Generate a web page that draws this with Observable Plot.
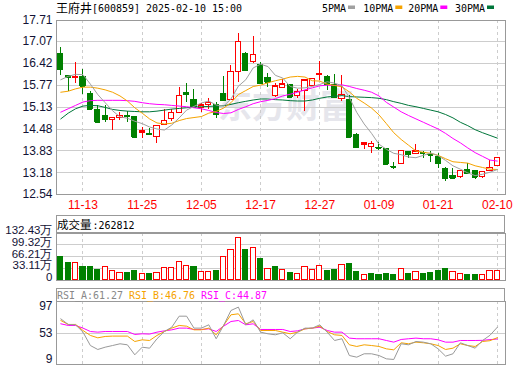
<!DOCTYPE html>
<html><head><meta charset="utf-8">
<script src="https://cdn.jsdelivr.net/npm/d3@7"></script>
<script src="https://cdn.jsdelivr.net/npm/@observablehq/plot@0.6"></script>
<style>
body{margin:0;background:#fff;}
#wrap{position:relative;width:520px;height:365px;overflow:hidden;background:#fff;}
#wrap > svg{position:absolute;left:0;top:0;}
</style></head><body><div id="wrap"></div>
<script>
const stockName = "王府井";
const stockHeader = "[600859] 2025-02-10 15:00";
const dates = ["11-08","11-11","11-12","11-13","11-14","11-15","11-18","11-19","11-20","11-21","11-22","11-25","11-26","11-27","11-28","11-29","12-02","12-03","12-04","12-05","12-06","12-09","12-10","12-11","12-12","12-13","12-16","12-17","12-18","12-19","12-20","12-23","12-24","12-25","12-26","12-27","12-30","12-31","01-02","01-03","01-06","01-07","01-08","01-09","01-10","01-13","01-14","01-15","01-16","01-17","01-20","01-21","01-22","01-23","01-24","01-27","02-05","02-06","02-07","02-10"];
const dateLabels = ["11-13","11-25","12-05","12-17","12-27","01-09","01-21","02-10"];
const opens  = [16.69,16.04,15.99,16.01,15.52,15.03,14.88,14.75,14.82,14.87,14.85,14.37,14.33,14.24,14.61,14.78,14.96,15.56,15.35,15.10,15.18,15.20,15.52,15.33,16.18,16.70,16.46,16.38,15.99,15.47,15.71,15.79,15.45,15.62,15.75,16.09,16.01,15.79,15.38,15.35,14.29,14.01,13.96,13.93,13.89,13.36,13.45,13.79,13.75,13.78,13.72,13.65,13.30,13.10,13.05,13.28,13.25,13.07,13.23,13.37];
const highs  = [16.90,16.07,16.45,16.24,15.59,15.18,15.18,14.83,14.98,15.00,14.86,14.52,14.50,14.58,15.05,15.05,15.72,15.82,15.65,15.23,15.38,15.26,16.04,16.36,17.32,16.74,17.23,16.46,16.12,15.82,15.95,15.80,15.65,15.92,15.99,16.48,16.07,16.09,16.07,15.47,14.34,14.09,14.11,14.07,13.91,13.50,13.84,13.82,14.02,13.81,13.81,13.75,13.35,13.32,13.25,13.45,13.26,13.22,13.55,13.64];
const lows   = [16.07,15.59,15.82,15.51,15.05,14.65,14.68,14.44,14.72,14.68,14.24,14.19,14.28,14.06,14.58,14.70,14.95,15.26,15.12,14.96,15.05,14.80,15.32,15.32,15.87,16.20,16.41,15.83,15.72,15.42,15.70,15.41,15.38,15.00,15.74,15.92,15.62,15.41,15.30,14.22,13.89,13.86,13.75,13.84,13.43,13.28,13.42,13.60,13.74,13.62,13.50,13.32,12.93,13.01,13.00,13.14,12.98,13.01,13.22,13.36];
const closes = [16.23,16.00,16.02,15.75,15.07,14.68,14.76,14.82,14.88,14.85,14.24,14.42,14.31,14.58,14.72,14.96,15.47,15.49,15.13,15.18,15.26,14.90,15.33,16.18,17.07,16.21,16.68,15.84,15.87,15.74,15.81,15.42,15.59,15.92,15.97,16.12,15.79,15.42,15.49,14.23,13.93,14.06,14.04,13.91,13.44,13.35,13.84,13.72,13.82,13.76,13.70,13.45,13.01,13.02,13.25,13.15,13.05,13.22,13.33,13.63];
const ma5  = [15.94,16.04,16.10,16.09,15.81,15.50,15.26,15.02,14.84,14.80,14.71,14.64,14.54,14.48,14.45,14.60,14.81,15.04,15.15,15.25,15.31,15.19,15.16,15.37,15.75,15.94,16.29,16.40,16.33,16.07,15.99,15.74,15.69,15.70,15.74,15.80,15.88,15.84,15.76,15.41,14.97,14.63,14.35,14.03,13.88,13.76,13.72,13.65,13.63,13.70,13.77,13.69,13.55,13.39,13.29,13.18,13.10,13.14,13.20,13.28];
const ma10 = [15.57,15.60,15.67,15.72,15.72,15.69,15.64,15.57,15.46,15.31,15.11,14.95,14.78,14.66,14.63,14.65,14.73,14.79,14.82,14.85,14.95,15.00,15.10,15.26,15.50,15.62,15.74,15.78,15.85,15.91,15.96,16.02,16.04,16.02,15.91,15.90,15.81,15.77,15.73,15.58,15.39,15.25,15.10,14.90,14.64,14.37,14.17,14.00,13.83,13.79,13.76,13.70,13.60,13.51,13.49,13.47,13.39,13.34,13.29,13.28];
const ma20 = [14.98,15.08,15.18,15.28,15.32,15.33,15.33,15.33,15.33,15.32,15.30,15.26,15.23,15.21,15.20,15.18,15.16,15.14,15.11,15.08,15.03,14.97,14.94,14.96,15.06,15.14,15.23,15.29,15.33,15.38,15.46,15.51,15.57,15.64,15.70,15.76,15.78,15.77,15.79,15.74,15.68,15.63,15.57,15.46,15.27,15.13,14.99,14.88,14.78,14.68,14.58,14.48,14.35,14.20,14.07,13.92,13.78,13.67,13.56,13.53];
const ma30 = [14.78,14.95,15.08,15.16,15.18,15.17,15.12,15.06,15.03,15.01,15.00,14.99,14.99,15.01,15.04,15.07,15.09,15.11,15.13,15.14,15.15,15.16,15.17,15.21,15.26,15.30,15.34,15.37,15.37,15.35,15.34,15.32,15.31,15.31,15.34,15.39,15.43,15.45,15.47,15.44,15.43,15.42,15.41,15.39,15.35,15.29,15.24,15.18,15.14,15.09,15.04,14.99,14.91,14.81,14.68,14.58,14.46,14.37,14.29,14.21];
const volumes = [659000,491000,491000,379000,379000,295000,370000,258000,210000,210000,267000,182000,182000,210000,342000,342000,510000,398000,379000,238000,238000,267000,651000,847000,1184000,856000,903000,603000,313000,379000,285000,210000,173000,379000,285000,398000,267000,295000,426000,463000,238000,145000,182000,154000,182000,154000,304000,182000,238000,182000,210000,267000,313000,238000,173000,154000,154000,145000,258000,262812];
const rsiA = [72.9,65.1,64.6,54.4,35.8,30.3,33.5,35.8,38.2,36.8,22.9,33.5,32.1,45.2,55.3,61.3,76.6,76.6,60.0,60.0,64.6,45.2,63.7,84.5,89.2,64.6,71.5,54.4,52.1,50.7,53.5,45.2,54.4,60.0,60.0,64.6,54.4,42.8,45.2,21.9,19.6,24.3,24.3,21.9,17.3,16.4,38.2,36.8,41.4,40.5,38.2,31.2,21.0,24.3,39.6,35.8,32.1,42.8,50.0,61.27];
const rsiB = [70.6,65.1,65.1,56.7,49.8,46.5,48.4,48.9,48.9,48.9,41.4,43.7,42.8,49.8,55.3,60.0,63.7,62.7,57.6,57.6,60.0,50.7,63.7,78.5,79.9,66.0,69.2,56.7,56.7,56.7,54.4,52.1,54.4,59.0,60.0,62.7,55.3,50.7,49.8,36.8,34.5,36.8,35.8,34.5,31.2,29.8,39.6,38.2,40.5,39.6,38.2,35.8,30.3,32.1,38.2,35.8,34.5,41.4,42.5,46.76];
const rsiC = [66.0,63.7,63.7,60.0,55.3,54.4,55.3,55.3,55.3,55.3,51.2,52.1,51.7,54.4,56.2,57.6,60.0,60.0,58.1,58.1,59.0,55.3,62.7,69.2,70.6,64.6,66.0,58.1,58.1,58.1,58.1,55.3,56.2,59.0,60.0,61.3,56.7,54.4,54.4,46.1,45.2,45.2,45.2,45.2,42.8,40.5,44.2,45.2,46.1,45.2,45.2,43.7,40.5,40.5,42.8,42.8,42.8,43.0,44.0,44.87];
const priceTicks = [12.54,13.18,13.83,14.48,15.13,15.77,16.42,17.07,17.71];
const volTicks = [0,331075,662150,993225,1324300];
const volTickLabels = ["0","33.11万","66.21万","99.32万","132.43万"];
const rsiTicks = [9,53,97];
const maNames = ["5PMA","10PMA","20PMA","30PMA"];
const rsiNames = ["RSI_A","RSI_B","RSI_C"];
const volName = "成交量";
const watermark = "东方财富";

const W = 520, H = 365;
const RED = "#ff0000", GREEN = "#008000";
const maColors = ["#a0a0a0","#f5a300","#ff00ff","#00763a"];
const rsiColors = ["#999999","#f5a300","#ff00ff"];
const xDomain = [-0.58, 60.1];
const BW = 0.35;

const rows = dates.map((d, i) => ({
  i, d, o: opens[i], h: highs[i], l: lows[i], c: closes[i], v: volumes[i],
  up: closes[i] >= opens[i],
  vUp: i === 0 ? closes[i] >= opens[i] : closes[i] > closes[i - 1],
  ma5: ma5[i], ma10: ma10[i], ma20: ma20[i], ma30: ma30[i],
  ra: rsiA[i], rb: rsiB[i], rc: rsiC[i]
}));
const tickIdx = dateLabels.map(l => dates.indexOf(l));
const upRows = rows.filter(r => r.up), dnRows = rows.filter(r => !r.up);
const vUpRows = rows.filter(r => r.vUp), vDnRows = rows.filter(r => !r.vUp);

const baseStyle = "background: transparent; overflow: visible; font: 12px 'Liberation Sans', Arial, sans-serif;";
const LABEL = "#121235";
const GRID = "#cdcdcd", FRAME = "#999999";
const crisp = {shapeRendering: "crispEdges"};

const wrap = document.getElementById("wrap");

// ---- Main candlestick panel
const main = Plot.plot({
  width: W, height: H, marginLeft: 56, marginRight: 15, marginTop: 19.5, marginBottom: H - 194,
  style: baseStyle,
  x: {domain: xDomain, axis: null},
  y: {domain: [12.54, 17.71], axis: null},
  marks: [
    Plot.text([watermark], {text: d => d, frameAnchor: "middle", dx: 5, dy: 0, fontSize: 34, fontWeight: "bold", fill: "#e6e6ec", fontFamily: "Noto Sans CJK SC"}),
    Plot.gridY(priceTicks, {stroke: GRID, strokeOpacity: 1, ...crisp}),
    Plot.ruleX(tickIdx, {stroke: GRID, strokeDasharray: "3,3", ...crisp}),
    Plot.ruleX(upRows, {x: "i", y1: "l", y2: "h", stroke: RED, ...crisp}),
    Plot.ruleX(dnRows, {x: "i", y1: "l", y2: "h", stroke: GREEN, ...crisp}),
    Plot.rect(upRows, {x1: d => d.i - BW, x2: d => d.i + BW, y1: "o", y2: "c", fill: "white", stroke: RED, ...crisp}),
    Plot.rect(dnRows, {x1: d => d.i - BW, x2: d => d.i + BW, y1: "o", y2: "c", fill: GREEN, stroke: GREEN, ...crisp}),
    Plot.ruleY(upRows, {y: "c", x1: d => d.i - BW, x2: d => d.i + BW, stroke: RED, ...crisp}),
    Plot.ruleY(dnRows, {y: "c", x1: d => d.i - BW, x2: d => d.i + BW, stroke: GREEN, ...crisp}),
    Plot.line(rows, {x: "i", y: "ma30", stroke: maColors[3], strokeWidth: 1}),
    Plot.line(rows, {x: "i", y: "ma20", stroke: maColors[2], strokeWidth: 1}),
    Plot.line(rows, {x: "i", y: "ma10", stroke: maColors[1], strokeWidth: 1}),
    Plot.line(rows, {x: "i", y: "ma5", stroke: maColors[0], strokeWidth: 1}),
    Plot.frame({stroke: FRAME, ...crisp}),
    Plot.axisY(priceTicks, {label: null, tickSize: 0, tickPadding: 4, tickFormat: d => d.toFixed(2), color: LABEL, fontSize: 12}),
    Plot.axisX(tickIdx, {label: null, tickSize: 0, tickPadding: 6, tickFormat: i => dates[i], color: RED, fontSize: 12})
  ]
});
wrap.appendChild(main);

// ---- Volume panel
const vol = Plot.plot({
  width: W, height: H, marginLeft: 56, marginRight: 15, marginTop: 232.5, marginBottom: H - 279.5,
  style: baseStyle,
  x: {domain: xDomain, axis: null},
  y: {domain: [0, volTicks[volTicks.length - 1]], axis: null},
  marks: [
    Plot.gridY(volTicks.slice(1, -1), {stroke: GRID, strokeOpacity: 1, ...crisp}),
    Plot.ruleX(tickIdx, {stroke: GRID, strokeDasharray: "3,3", ...crisp}),
    Plot.rect(vUpRows, {x1: d => d.i - BW, x2: d => d.i + BW, y1: () => 0, y2: "v", fill: "white", stroke: RED, ...crisp}),
    Plot.rect(vDnRows, {x1: d => d.i - BW, x2: d => d.i + BW, y1: () => 0, y2: "v", fill: GREEN, stroke: GREEN, ...crisp}),
    Plot.frame({stroke: FRAME, ...crisp}),
    Plot.axisY(volTicks, {label: null, tickSize: 0, tickPadding: 4, dy: -2.5, tickFormat: d => volTickLabels[volTicks.indexOf(d)], color: LABEL, fontSize: 11.5})
  ]
});
wrap.appendChild(vol);

// ---- RSI panel
const rsi = Plot.plot({
  width: W, height: H, marginLeft: 56, marginRight: 15, marginTop: 301, marginBottom: 0.7,
  style: baseStyle,
  x: {domain: xDomain, axis: null},
  y: {domain: [rsiTicks[0], rsiTicks[2]], axis: null},
  marks: [
    Plot.gridY([rsiTicks[1]], {stroke: GRID, strokeOpacity: 1, ...crisp}),
    Plot.ruleX(tickIdx, {stroke: GRID, strokeDasharray: "3,3", ...crisp}),
    Plot.line(rows, {x: "i", y: "rc", stroke: rsiColors[2], strokeWidth: 1}),
    Plot.line(rows, {x: "i", y: "rb", stroke: rsiColors[1], strokeWidth: 1}),
    Plot.line(rows, {x: "i", y: "ra", stroke: rsiColors[0], strokeWidth: 1}),
    Plot.frame({stroke: FRAME, ...crisp}),
    Plot.axisY([rsiTicks[2]], {label: null, tickSize: 0, tickPadding: 4, dy: 5, color: LABEL, fontSize: 12}),
    Plot.axisY([rsiTicks[1]], {label: null, tickSize: 0, tickPadding: 4, color: LABEL, fontSize: 12}),
    Plot.axisY([rsiTicks[0]], {label: null, tickSize: 0, tickPadding: 4, dy: -6, color: LABEL, fontSize: 12})
  ]
});
wrap.appendChild(rsi);

// ---- Overlay: titles, legend, header boxes
const ov = d3.create("svg").attr("width", W).attr("height", H);
const MONO = "'DejaVu Sans Mono', 'Liberation Mono', monospace";
function mono(g, str, x, y, color) {
  g.append("text").attr("x", x).attr("y", y).attr("fill", color)
    .attr("font-family", MONO).attr("font-size", 11)
    .attr("textLength", str.length * 6).attr("lengthAdjust", "spacingAndGlyphs").text(str);
}
ov.append("text").attr("x", 56).attr("y", 12.5).attr("font-family", "'DejaVu Sans Mono', 'Noto Sans CJK SC'").attr("font-size", 12).attr("fill", "#000").text(stockName);
mono(ov, stockHeader, 92, 12, "#000");
const legendX = [322, 363.3, 408.3, 455];
maNames.forEach((n, k) => {
  mono(ov, n, legendX[k], 12, "#000");
  ov.append("rect").attr("x", legendX[k] + n.length * 6 + 2).attr("y", 5.5).attr("width", 7).attr("height", 3.5).attr("fill", maColors[k]);
});
// volume header box
ov.append("rect").attr("x", 56.5).attr("y", 215.5).attr("width", 448).attr("height", 17).attr("fill", "none").attr("stroke", FRAME).attr("shape-rendering", "crispEdges");
ov.append("text").attr("x", 57).attr("y", 228.5).attr("font-family", "'Noto Sans CJK SC'").attr("font-size", 11.5).attr("fill", "#000").text(volName);
mono(ov, ":" + volumes[volumes.length - 1], 92.5, 228.5, "#000");
// RSI header box
ov.append("rect").attr("x", 56.5).attr("y", 288.5).attr("width", 448).attr("height", 12.5).attr("fill", "none").attr("stroke", FRAME).attr("shape-rendering", "crispEdges");
const lastR = [rsiA[59], rsiB[59], rsiC[59]];
rsiNames.forEach((n, k) => {
  mono(ov, n + ":" + lastR[k].toFixed(2), 57 + k * 72, 298.5, k === 0 ? "#888888" : rsiColors[k]);
});
wrap.appendChild(ov.node());
</script></body></html>
